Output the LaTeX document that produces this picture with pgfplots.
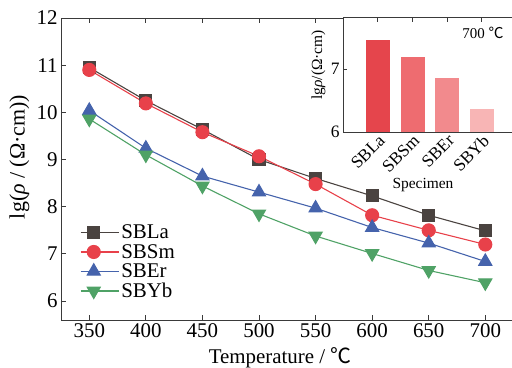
\documentclass[border=0pt]{standalone}
\usepackage{pgfplots}
\pgfplotsset{compat=1.18}
\usepackage{fontspec}
\setmainfont{Liberation Serif}
\newfontfamily\cjk{Noto Sans CJK SC}
\newcommand{\degC}{{\cjk ℃}}
\definecolor{cLa}{HTML}{4A4340}
\definecolor{cSm}{HTML}{E8414A}
\definecolor{cEr}{HTML}{4563AC}
\definecolor{cYb}{HTML}{4FA266}
\definecolor{bA}{HTML}{E5454C}
\definecolor{bB}{HTML}{EE6C70}
\definecolor{bC}{HTML}{F28A8D}
\definecolor{bD}{HTML}{F8B5B5}
\definecolor{axc}{HTML}{3A3A3A}
\begin{document}
\begin{tikzpicture}[x=1bp,y=1bp]
\useasboundingbox (-61,-47) rectangle (451,320);
\begin{axis}[
  at={(0,0)}, anchor=south west, scale only axis,
  width=475.2bp, height=302bp,
  xmin=325, xmax=745, ymin=5.6, ymax=12,
  xtick={350,400,450,500,550,600,650,700},
  xticklabels={350,400,450,500,550,600,650,700},
  ytick={6,7,8,9,10,11,12},
  yticklabels={6,7,8,9,10,11,12},
  tick align=inside, major tick length=5bp,
  axis line style={axc, line width=1pt},
  every tick/.style={axc, line width=1pt},
  tick label style={font=\fontsize{21}{24}\selectfont},
  label style={font=\fontsize{21}{24}\selectfont},
  xlabel={Temperature / \degC},
  xlabel style={at={(axis description cs:0.461,0)}, anchor=north, yshift=-24bp},
  ylabel={lg(\textit{ρ} / (Ω·cm))},
  ylabel style={at={(axis description cs:0,0.54)}, anchor=south, yshift=28bp, font=\fontsize{22}{24}\selectfont},
  legend style={at={(axis description cs:0.04,0.322)}, anchor=north west, draw=none, fill=none,
    font=\fontsize{21}{23}\selectfont, row sep=0bp, inner sep=0pt},
  legend cell align=left,
  legend image code/.code={\path (0bp,0bp) -- (38bp,0bp); \draw[mark repeat=2,mark phase=2,#1] plot coordinates {(0bp,0bp) (13bp,0bp) (26bp,0bp)};},
]
\addplot[cLa, line width=1.1pt, mark=square*, mark size=6bp, mark options={solid, fill=cLa}] coordinates {
(350,10.95) (400,10.25) (450,9.64) (500,9.00) (550,8.60) (600,8.23) (650,7.82) (700,7.49)};
\addlegendentry{SBLa}
\addplot[cSm, line width=1.1pt, mark=*, mark size=6.5bp, mark options={solid, fill=cSm}] coordinates {
(350,10.90) (400,10.19) (450,9.58) (500,9.07) (550,8.48) (600,7.82) (650,7.50) (700,7.20)};
\addlegendentry{SBSm}
\addplot[cEr, line width=1.1pt, mark=triangle*, mark size=7.5bp, mark options={solid, fill=cEr}] coordinates {
(350,10.04) (400,9.24) (450,8.65) (500,8.31) (550,7.97) (600,7.56) (650,7.23) (700,6.84)};
\addlegendentry{SBEr}
\addplot[cYb, line width=1.1pt, mark=triangle*, mark size=7.5bp, mark options={solid, fill=cYb, rotate=180}] coordinates {
(350,9.86) (400,9.10) (450,8.44) (500,7.85) (550,7.38) (600,7.01) (650,6.65) (700,6.39)};
\addlegendentry{SBYb}
\end{axis}
\begin{axis}[
  at={(282bp,302bp)}, anchor=north west, scale only axis,
  width=190.9bp, height=114bp,
  xmin=-1, xmax=4.5, ymin=6, ymax=7.81,
  axis background/.style={fill=white},
  xtick={0,1,2,3}, xticklabels={SBLa,SBSm,SBEr,SBYb},
  ytick={6,7}, yticklabels={6,7},
  tick align=inside, major tick length=4bp,
  axis line style={axc, line width=1pt},
  every tick/.style={axc, line width=1pt},
  tick label style={font=\fontsize{17.5}{18}\selectfont},
  x tick label style={rotate=45, anchor=north east, inner sep=1bp},
  label style={font=\fontsize{15.5}{18}\selectfont},
  xlabel={Specimen},
  xlabel style={at={(axis description cs:0.419,0)}, anchor=north, yshift=-43bp},
  ylabel={lg\textit{ρ}/(Ω·cm)},
  ylabel style={at={(axis description cs:0,0.59)}, anchor=south, yshift=14bp},
]
\addplot[ybar, bar shift=0pt, bar width=25bp, fill=bA, draw=white, line width=0.4pt] coordinates {(0,7.48)};
\addplot[ybar, bar shift=0pt, bar width=25bp, fill=bB, draw=white, line width=0.4pt] coordinates {(1,7.20)};
\addplot[ybar, bar shift=0pt, bar width=25bp, fill=bC, draw=white, line width=0.4pt] coordinates {(2,6.87)};
\addplot[ybar, bar shift=0pt, bar width=25bp, fill=bD, draw=white, line width=0.4pt] coordinates {(3,6.38)};
\node[anchor=east, font=\fontsize{15}{18}\selectfont] at (rel axis cs:0.859,0.87) {700 \degC};
\end{axis}
\end{tikzpicture}
\end{document}
